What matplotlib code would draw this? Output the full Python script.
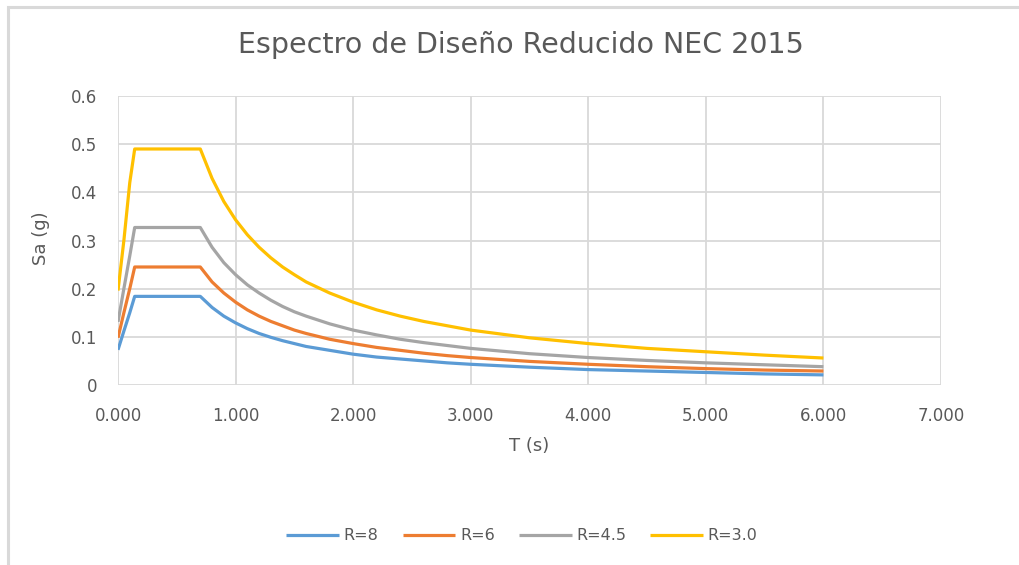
import matplotlib
matplotlib.use("Agg")
import matplotlib.pyplot as plt
from matplotlib.patches import Rectangle

# Periodos (s)
T = [0.000, 0.050, 0.100, 0.142, 0.200, 0.300, 0.400, 0.500, 0.600, 0.700,
     0.800, 0.900, 1.000, 1.100, 1.200, 1.300, 1.400, 1.500, 1.600, 1.800,
     2.000, 2.200, 2.400, 2.600, 2.800, 3.000, 3.500, 4.000, 4.500, 5.000,
     5.500, 6.000]

# Aceleracion espectral reducida Sa (g) para cada R
sa_r8 = [0.073, 0.112, 0.150, 0.184, 0.184, 0.184, 0.184, 0.184, 0.184, 0.184,
         0.161, 0.143, 0.129, 0.117, 0.107, 0.099, 0.092, 0.086, 0.080, 0.072,
         0.064, 0.058, 0.054, 0.050, 0.046, 0.043, 0.037, 0.032, 0.029, 0.026,
         0.023, 0.021]
sa_r6 = [0.098, 0.150, 0.200, 0.245, 0.245, 0.245, 0.245, 0.245, 0.245, 0.245,
         0.214, 0.191, 0.172, 0.156, 0.143, 0.132, 0.123, 0.114, 0.107, 0.095,
         0.086, 0.078, 0.072, 0.066, 0.061, 0.057, 0.049, 0.043, 0.038, 0.034,
         0.031, 0.029]
sa_r45 = [0.131, 0.200, 0.268, 0.327, 0.327, 0.327, 0.327, 0.327, 0.327, 0.327,
          0.286, 0.254, 0.229, 0.208, 0.191, 0.176, 0.163, 0.152, 0.143, 0.127,
          0.114, 0.104, 0.095, 0.088, 0.082, 0.076, 0.065, 0.057, 0.051, 0.046,
          0.042, 0.038]
sa_r3 = [0.196, 0.300, 0.420, 0.490, 0.490, 0.490, 0.490, 0.490, 0.490, 0.490,
         0.429, 0.381, 0.343, 0.312, 0.286, 0.264, 0.245, 0.229, 0.214, 0.191,
         0.172, 0.156, 0.143, 0.132, 0.123, 0.114, 0.098, 0.086, 0.076, 0.069,
         0.062, 0.056]

series = [("R=8", sa_r8, "#5B9BD5"),
          ("R=6", sa_r6, "#ED7D31"),
          ("R=4.5", sa_r45, "#A5A5A5"),
          ("R=3.0", sa_r3, "#FFC000")]

x_ticks = [0, 1, 2, 3, 4, 5, 6, 7]
y_ticks = [0, 0.1, 0.2, 0.3, 0.4, 0.5, 0.6]

W, H = 1019, 565
fig = plt.figure(figsize=(W / 100, H / 100), dpi=100)
ax = fig.add_axes([118 / W, 1 - 385 / H, (941 - 118) / W, (385 - 96) / H])

# Marco exterior (solo se ven los bordes superior e izquierdo)
fig.patches.append(Rectangle((7.5 / W, -0.5), 2.0, 1.5 - 7 / H,
                             transform=fig.transFigure, fill=False,
                             edgecolor="#D9D9D9", linewidth=2.2))

for nombre, valores, color in series:
    ax.plot(T, valores, color=color, linewidth=2.3, label=nombre,
            solid_joinstyle="round", solid_capstyle="butt")

ax.set_xlim(0, 7)
ax.set_ylim(0, 0.6)
ax.set_xticks(x_ticks)
ax.set_xticklabels([f"{v:.3f}" for v in x_ticks])
ax.set_yticks(y_ticks)
ax.set_yticklabels(["0" if v == 0 else f"{v:.1f}" for v in y_ticks])
ax.grid(True, color="#D9D9D9", linewidth=1.3)
ax.set_axisbelow(True)
for s in ax.spines.values():
    s.set_visible(False)
ax.tick_params(length=0, labelsize=12, labelcolor="#595959")
ax.tick_params(axis="x", pad=16)
ax.tick_params(axis="y", pad=15)

fig.text(521 / W, 1 - 45 / H, "Espectro de Diseño Reducido NEC 2015",
         ha="center", va="center", fontsize=20.5, color="#595959")
fig.text(529 / W, 1 - 446 / H, "T (s)", ha="center", va="center",
         fontsize=13, color="#595959")
fig.text(41 / W, 1 - 238 / H, "Sa (g)", ha="center", va="center",
         rotation=90, fontsize=13, color="#595959")

leg = fig.legend(loc="center", bbox_to_anchor=(522 / W, 1 - 536 / H), ncol=4,
                 frameon=False, fontsize=11.5, handlelength=3.3, handletextpad=0.3,
                 columnspacing=1.5)
for t in leg.get_texts():
    t.set_color("#595959")

fig.savefig("out.png", dpi=100)
